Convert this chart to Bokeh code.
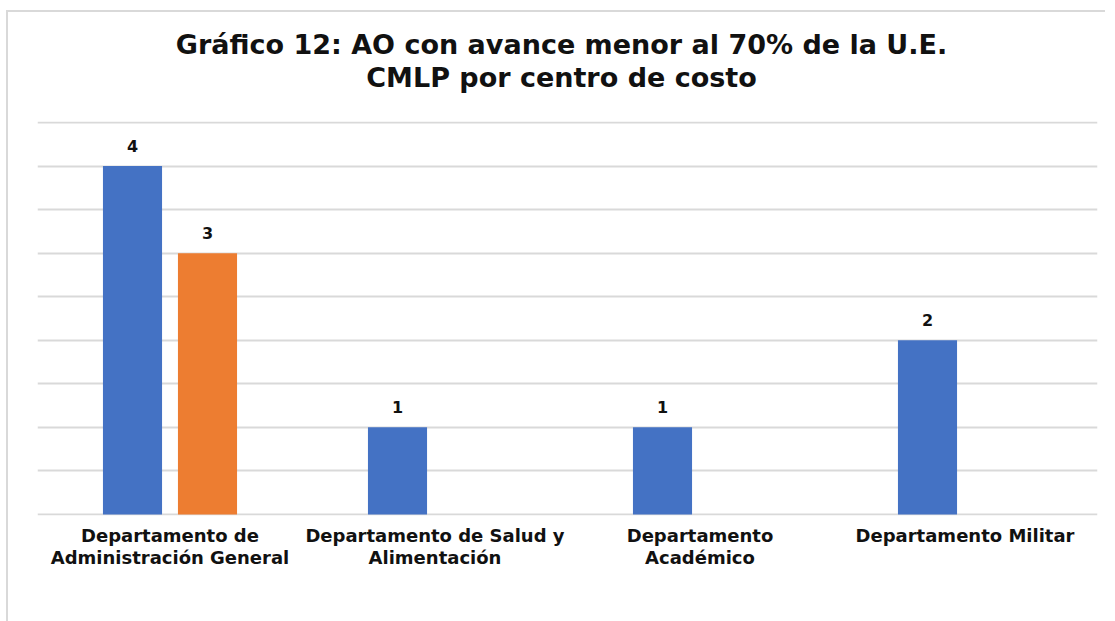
from bokeh.plotting import figure
from bokeh.models import ColumnDataSource, FixedTicker, Range1d, Legend, LegendItem, LabelSet, Div
from bokeh.core.properties import value
from bokeh.layouts import column
from bokeh.transform import dodge
from bokeh.embed import file_html
from bokeh.resources import INLINE

categories = ["Departamento de\nAdministración General",
              "Departamento de Salud y\nAlimentación",
              "Departamento\nAcadémico",
              "Departamento Militar"]
serie_0 = [4, 1, 1, 2]
serie_0_70 = [3, 0, 0, 0]
series_names = ["0%", "]0-70]%"]
title_lines = ["Gráfico 12: AO con avance menor al 70% de la U.E.", "CMLP por centro de costo"]

FONT = "DejaVu Sans"
BLUE = "#4472C4"
ORANGE = "#ED7D31"
GRID = "#D9D9D9"
TXT = "#111111"

src0 = ColumnDataSource(dict(x=categories, y=serie_0, lab=[str(v) for v in serie_0]))
src1 = ColumnDataSource(dict(
    x=[c for c, v in zip(categories, serie_0_70) if v > 0],
    y=[v for v in serie_0_70 if v > 0],
    lab=[str(v) for v in serie_0_70 if v > 0]))

title_div = Div(
    text="<br>".join(title_lines), width=1097, height=84, margin=(0, 0, 0, 0),
    styles={"font-family": "'DejaVu Sans'", "font-weight": "bold", "font-size": "27px",
            "line-height": "33px", "text-align": "center", "color": TXT,
            "padding-top": "16px", "padding-left": "10px", "box-sizing": "border-box"})

p = figure(x_range=categories, y_range=Range1d(-0.012, 4.512), frame_width=1060, frame_height=394,
           output_backend="svg", toolbar_location=None,
           min_border_left=29, min_border_right=8, min_border_top=25, min_border_bottom=105)

r0 = p.vbar(x=dodge("x", -0.1415, range=p.x_range), top="y", width=0.223, source=src0,
            fill_color=BLUE, line_color=None)
r1 = p.vbar(x=dodge("x", 0.1415, range=p.x_range), top="y", width=0.223, source=src1,
            fill_color=ORANGE, line_color=None)

for src, off in ((src0, -0.1415), (src1, 0.1415)):
    p.add_layout(LabelSet(x=dodge("x", off, range=p.x_range), y="y", text="lab", source=src,
                          text_align="center", text_baseline="alphabetic", y_offset=14,
                          text_font=value(FONT), text_font_style="bold", text_font_size="16px",
                          text_color=TXT))

p.yaxis.visible = False
p.ygrid.ticker = FixedTicker(ticks=[0, 0.5, 1, 1.5, 2, 2.5, 3, 3.5, 4, 4.5])
p.ygrid.grid_line_color = GRID
p.ygrid.grid_line_width = 2
p.xgrid.visible = False
p.outline_line_color = None

ax = p.xaxis[0]
ax.axis_line_color = None
ax.major_tick_line_color = None
ax.minor_tick_line_color = None
ax.major_label_text_font = FONT
ax.major_label_text_font_style = "bold"
ax.major_label_text_font_size = "18px"
ax.major_label_text_line_height = 1.05
ax.major_label_text_color = TXT
ax.major_label_standoff = 3

legend = Legend(items=[LegendItem(label=series_names[0], renderers=[r0]),
                       LegendItem(label=series_names[1], renderers=[r1])],
                orientation="horizontal", location="bottom_center",
                label_text_font=FONT, label_text_font_style="bold", label_text_font_size="16px",
                label_text_color=TXT, glyph_width=11, glyph_height=10, label_height=10,
                spacing=19, border_line_color=None, background_fill_alpha=0,
                margin=8, padding=3, label_standoff=6)
p.add_layout(legend, "below")

layout = column(title_div, p, styles={"margin-top": "10px", "margin-left": "6px",
                                      "border-top": "2px solid #D9D9D9",
                                      "border-left": "2px solid #D9D9D9"})

open("out.html", "w").write(file_html(layout, INLINE))
